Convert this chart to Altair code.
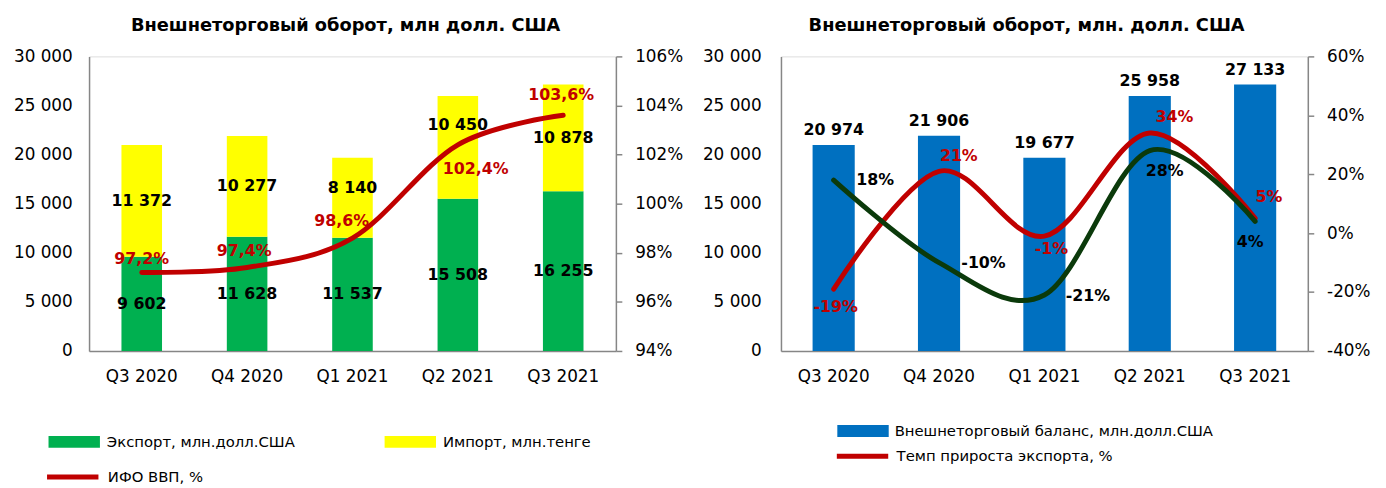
import altair as alt
import pandas as pd

# ---------------- data ----------------
quarters = ["Q3 2020", "Q4 2020", "Q1 2021", "Q2 2021", "Q3 2021"]
export_vals = [9602, 11628, 11537, 15508, 16255]
import_vals = [11372, 10277, 8140, 10450, 10878]
ifo_vals = [97.2, 97.4, 98.6, 102.4, 103.6]
balance_vals = [20974, 21906, 19677, 25958, 27133]
export_growth = [-19, 21, -1, 34, 5]
import_growth = [18, -10, -21, 28, 4]

left_y_ticks = [0, 5000, 10000, 15000, 20000, 25000, 30000]
left_pct_ticks = [94, 96, 98, 100, 102, 104, 106]
right_pct_ticks = [-40, -20, 0, 20, 40, 60]

EXP = "Экспорт, млн.долл.США"
IMP = "Импорт, млн.тенге"
IFO = "ИФО ВВП, %"
BAL = "Внешнеторговый баланс, млн.долл.США"
EG = "Темп прироста экспорта, %"
IG = "Темп прироста импорта, %"
TITLE_L = "Внешнеторговый оборот, млн долл. США"
TITLE_R = "Внешнеторговый оборот, млн. долл. США"

# ---------------- style ----------------
FONT = "DejaVu Sans"
GREEN = "#00B050"
YELLOW = "#FFFF00"
RED = "#C00000"
BLUE = "#0070C0"
DKGREEN = "#0B3A0B"
AXIS = "#868686"
FS = 17
TFS = 18
LFS = 15
BFS = 16
RECT = "M-1,-0.23L1,-0.23L1,0.23L-1,0.23Z"
W, H = 533, 298


def fmt_int(v):
    return f"{v:,}".replace(",", " ")


def fmt_pct1(v):
    return f"{v:.1f}".replace(".", ",") + "%"


rows = []
for i, q in enumerate(quarters):
    e, m = export_vals[i], import_vals[i]
    rows.append(dict(q=q, series=EXP, value=e, order=1, mid=e / 2, label=fmt_int(e)))
    rows.append(dict(q=q, series=IMP, value=m, order=2, mid=e + m / 2, label=fmt_int(m)))
stack_df = pd.DataFrame(rows)
ifo_df = pd.DataFrame(dict(q=quarters, series=IFO, value=ifo_vals,
                           label=[fmt_pct1(v) for v in ifo_vals]))
bal_df = pd.DataFrame(dict(q=quarters, series=BAL, value=balance_vals,
                           label=[fmt_int(v) for v in balance_vals]))
eg_df = pd.DataFrame(dict(q=quarters, series=EG, value=export_growth,
                          label=[f"{v}%" for v in export_growth]))
ig_df = pd.DataFrame(dict(q=quarters, series=IG, value=import_growth,
                          label=[f"{v}%" for v in import_growth]))

# label offsets (pixels) per quarter
left_ifo_off = {"Q3 2020": (0, -14), "Q4 2020": (-3, -17), "Q1 2021": (-11, -17),
                "Q2 2021": (18, 25), "Q3 2021": (-2, -20)}
left_imp_off = {"Q1 2021": (0, -10), "Q2 2021": (0, -23)}
right_exp_off = {"Q3 2020": (2, 18), "Q4 2020": (20, -15), "Q1 2021": (7, 13),
                 "Q2 2021": (25, -16), "Q3 2021": (14, -22)}
right_imp_off = {"Q3 2020": (42, 0), "Q4 2020": (45, 0), "Q1 2021": (44, 1),
                 "Q2 2021": (15, 21), "Q3 2021": (-5, 21)}


def x_enc(pad):
    return alt.X("q:N", sort=quarters,
                 scale=alt.Scale(paddingInner=pad, paddingOuter=pad / 2),
                 axis=alt.Axis(title=None, labelAngle=0, ticks=False, domainColor=AXIS,
                               domainWidth=1.5, labelPadding=18, labelFontSize=FS,
                               labelColor="black", labelFont=FONT))


def count_axis(pad, ext):
    return alt.Axis(values=left_y_ticks, title=None, grid=False, ticks=False, tickSize=0,
                    domainColor=AXIS, domainWidth=1.5, labelPadding=pad, labelFontSize=FS,
                    labelColor="black", labelFont=FONT, minExtent=ext, maxExtent=ext,
                    labelExpr="replace(format(datum.value, ','), ',', ' ')")


def pct_axis(vals, ext):
    return alt.Axis(values=vals, title=None, grid=False, orient="right", ticks=True,
                    tickSize=6, tickColor=AXIS, tickWidth=1.5, domainColor=AXIS,
                    domainWidth=1.5, labelPadding=13, labelFontSize=FS, labelColor="black",
                    labelFont=FONT, minExtent=ext, maxExtent=ext,
                    labelExpr="datum.value + '%'")


def text_layers(df, offsets, color, pad, yfield, yscale, yaxis):
    layers = []
    for q in quarters:
        dx, dy = offsets.get(q, (0, 0))
        layers.append(
            alt.Chart(df).transform_filter(alt.datum.q == q)
            .mark_text(font=FONT, fontSize=BFS, fontWeight="bold", color=color,
                       dx=dx, dy=dy, baseline="middle", align="center")
            .encode(x=x_enc(pad), y=alt.Y(yfield, scale=yscale, axis=yaxis), text="label:N")
        )
    return layers


# ---------------- left panel ----------------
PL = 0.615
ly_scale = alt.Scale(domain=[0, 30000])
ly_axis = count_axis(17, 81)
lp_scale = alt.Scale(domain=[94, 106])
lp_axis = pct_axis(left_pct_ticks, 70)

bars_l = alt.Chart(stack_df).mark_bar().encode(
    x=x_enc(PL),
    y=alt.Y("value:Q", stack="zero", scale=ly_scale, axis=ly_axis),
    color=alt.Color("series:N", scale=alt.Scale(domain=[EXP, IMP], range=[GREEN, YELLOW]),
                    legend=alt.Legend(title=None, orient="none", legendX=-41, legendY=364,
                                      direction="horizontal", symbolType=RECT,
                                      symbolSize=2704, symbolStrokeWidth=0,
                                      labelFontSize=LFS, labelFont=FONT, labelColor="black",
                                      labelOffset=7, columnPadding=90, padding=0,
                                      labelLimit=500)),
    order=alt.Order("order:Q"),
)
exp_lab = text_layers(stack_df[stack_df.series == EXP], {}, "black", PL, "mid:Q",
                      ly_scale, ly_axis)
imp_lab = text_layers(stack_df[stack_df.series == IMP], left_imp_off, "black", PL, "mid:Q",
                      ly_scale, ly_axis)
bar_group_l = alt.layer(bars_l, *exp_lab, *imp_lab)

line_l = alt.Chart(ifo_df).mark_line(interpolate="cardinal", strokeWidth=5,
                                     strokeCap="round").encode(
    x=x_enc(PL),
    y=alt.Y("value:Q", scale=lp_scale, axis=lp_axis),
    stroke=alt.Stroke("series:N", scale=alt.Scale(domain=[IFO], range=[RED]),
                      legend=alt.Legend(title=None, orient="none", legendX=-45, legendY=397,
                                        symbolType="stroke", symbolSize=2704,
                                        symbolStrokeWidth=5, labelFontSize=LFS,
                                        labelFont=FONT, labelColor="black", labelOffset=7,
                                        padding=0, labelLimit=500)),
)
ifo_lab = text_layers(ifo_df, left_ifo_off, RED, PL, "value:Q", lp_scale, lp_axis)
line_group_l = alt.layer(line_l, *ifo_lab)

left = alt.layer(bar_group_l, line_group_l).resolve_scale(y="independent").properties(
    width=W, height=H,
    title=alt.TitleParams(TITLE_L, fontSize=TFS, fontWeight="bold", font=FONT,
                          color="black", anchor="middle", offset=13, dx=-7),
)

# ---------------- right panel ----------------
PR = 0.6
ry_scale = alt.Scale(domain=[0, 30000])
ry_axis = count_axis(20, 79)
rp_scale = alt.Scale(domain=[-40, 60])
rp_axis = pct_axis(right_pct_ticks, 70)

bars_r = alt.Chart(bal_df).mark_bar().encode(
    x=x_enc(PR),
    y=alt.Y("value:Q", scale=ry_scale, axis=ry_axis),
    color=alt.Color("series:N", scale=alt.Scale(domain=[BAL], range=[BLUE]),
                    legend=alt.Legend(title=None, orient="none", legendX=57, legendY=353,
                                      symbolType=RECT, symbolSize=2704, symbolStrokeWidth=0,
                                      labelFontSize=LFS, labelFont=FONT, labelColor="black",
                                      labelOffset=6, padding=0, labelLimit=500)),
)
bal_lab = alt.Chart(bal_df).mark_text(font=FONT, fontSize=BFS, fontWeight="bold",
                                      color="black", dy=-15).encode(
    x=x_enc(PR), y=alt.Y("value:Q", scale=ry_scale, axis=ry_axis), text="label:N")
bar_group_r = alt.layer(bars_r, bal_lab)

stroke_r = alt.Stroke("series:N", scale=alt.Scale(domain=[EG, IG], range=[RED, DKGREEN]),
                      legend=alt.Legend(title=None, orient="none", legendX=54, legendY=376,
                                        direction="vertical", symbolType="stroke",
                                        symbolSize=2704, symbolStrokeWidth=5,
                                        labelFontSize=LFS, labelFont=FONT,
                                        labelColor="black", labelOffset=6, rowPadding=7,
                                        padding=0, labelLimit=500))
line_eg = alt.Chart(eg_df).mark_line(interpolate="cardinal", strokeWidth=5,
                                     strokeCap="round").encode(
    x=x_enc(PR), y=alt.Y("value:Q", scale=rp_scale, axis=rp_axis), stroke=stroke_r)
line_ig = alt.Chart(ig_df).mark_line(interpolate="cardinal", strokeWidth=5,
                                     strokeCap="round").encode(
    x=x_enc(PR), y=alt.Y("value:Q", scale=rp_scale, axis=rp_axis), stroke=stroke_r)
eg_lab = text_layers(eg_df, right_exp_off, RED, PR, "value:Q", rp_scale, rp_axis)
ig_lab = text_layers(ig_df, right_imp_off, "black", PR, "value:Q", rp_scale, rp_axis)
line_group_r = alt.layer(line_eg, line_ig, *eg_lab, *ig_lab)

right = alt.layer(bar_group_r, line_group_r).resolve_scale(y="independent").properties(
    width=W, height=H,
    title=alt.TitleParams(TITLE_R, fontSize=TFS, fontWeight="bold", font=FONT,
                          color="black", anchor="middle", offset=13, dx=-18),
)

chart = alt.hconcat(left, right, spacing=16).resolve_scale(
    color="independent", stroke="independent", x="independent"
).resolve_legend(color="independent", stroke="independent").properties(
    padding={"left": 0, "top": 5, "right": 0, "bottom": 0}
).configure_view(stroke=None).configure(font=FONT)

chart.save("out.html", embed_options={"renderer": "svg", "actions": False})
